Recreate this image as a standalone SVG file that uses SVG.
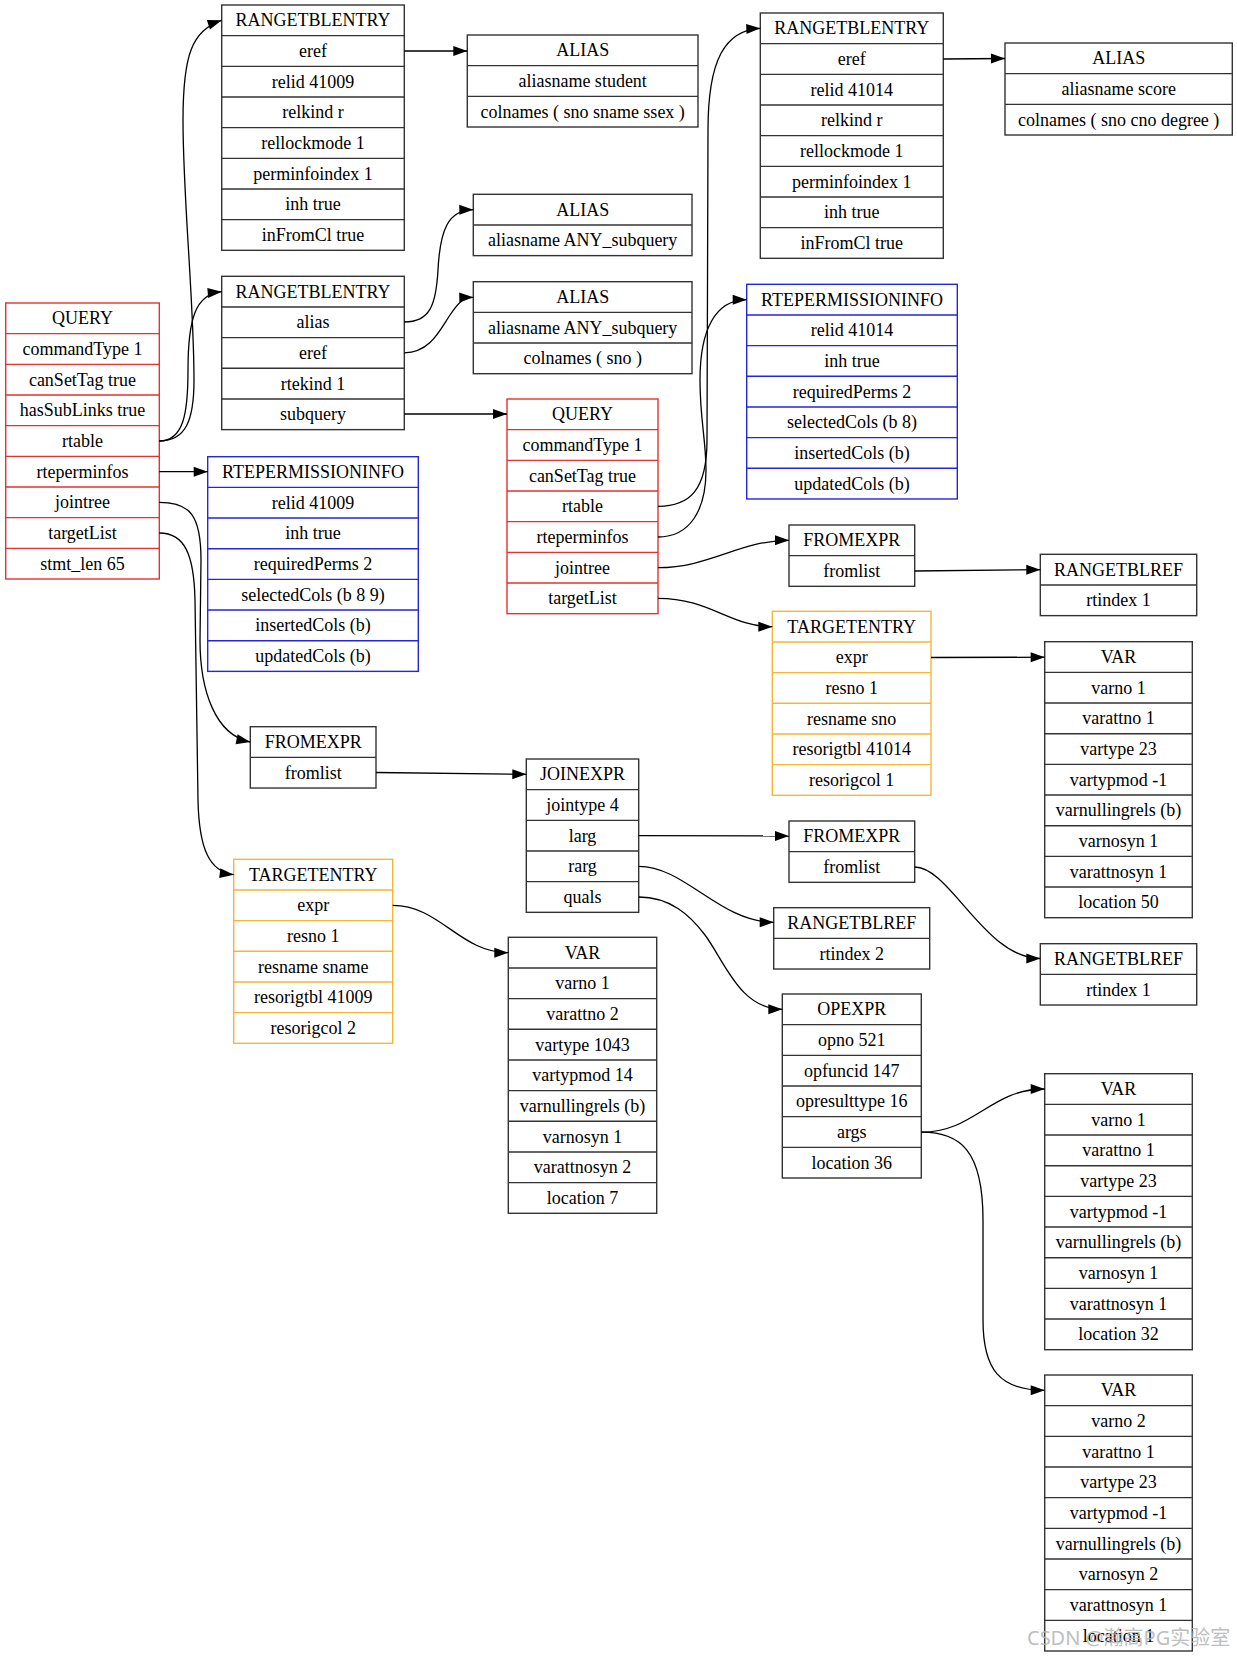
<svg xmlns="http://www.w3.org/2000/svg" width="1237" height="1657" viewBox="0 0 1237 1657">
<style>
.nd rect{fill:#fff;stroke:#333;stroke-width:1.4}
.nd path{fill:none;stroke:#333;stroke-width:1.4}
.r rect,.r path{stroke:#e23232}
.b rect,.b path{stroke:#2626d9}
.o rect,.o path{stroke:#f5b537}
.nd text{font-family:"Liberation Serif","Times New Roman",serif;font-size:18px;text-anchor:middle;fill:#000}
#edges path{fill:none;stroke:#000;stroke-width:1.3}
.wm{font-family:"Noto Sans","Noto Sans CJK SC",sans-serif;font-size:20px;fill:#b4b4b4;opacity:0.85}
</style>
<defs>
<marker id="arr" markerUnits="userSpaceOnUse" markerWidth="14" markerHeight="10" refX="14" refY="5" orient="auto" overflow="visible"><path d="M0,0L14,5L0,10z" fill="#000"/></marker>
</defs>
<rect width="1237" height="1657" fill="#fff"/>

<g id="query1" class="nd r" transform="translate(5.7,303)">
<rect width="153.6" height="276"/>
<path d="M0,30.67h153.6M0,61.33h153.6M0,92h153.6M0,122.67h153.6M0,153.33h153.6M0,184h153.6M0,214.67h153.6M0,245.33h153.6"/>
<text x="76.8" y="21.3">QUERY</text>
<text x="76.8" y="52">commandType 1</text>
<text x="76.8" y="82.7">canSetTag true</text>
<text x="76.8" y="113.3">hasSubLinks true</text>
<text x="76.8" y="144">rtable</text>
<text x="76.8" y="174.7">rteperminfos</text>
<text x="76.8" y="205.3">jointree</text>
<text x="76.8" y="236">targetList</text>
<text x="76.8" y="266.7">stmt_len 65</text>
</g>

<g id="rte1" class="nd" transform="translate(221.7,5)">
<rect width="182.6" height="245.33"/>
<path d="M0,30.67h182.6M0,61.33h182.6M0,92h182.6M0,122.67h182.6M0,153.33h182.6M0,184h182.6M0,214.67h182.6"/>
<text x="91.3" y="21.3">RANGETBLENTRY</text>
<text x="91.3" y="52">eref</text>
<text x="91.3" y="82.7">relid 41009</text>
<text x="91.3" y="113.3">relkind r</text>
<text x="91.3" y="144">rellockmode 1</text>
<text x="91.3" y="174.7">perminfoindex 1</text>
<text x="91.3" y="205.3">inh true</text>
<text x="91.3" y="236">inFromCl true</text>
</g>

<g id="rte2" class="nd" transform="translate(221.7,276.3)">
<rect width="182.6" height="153.33"/>
<path d="M0,30.67h182.6M0,61.33h182.6M0,92h182.6M0,122.67h182.6"/>
<text x="91.3" y="21.3">RANGETBLENTRY</text>
<text x="91.3" y="52">alias</text>
<text x="91.3" y="82.7">eref</text>
<text x="91.3" y="113.3">rtekind 1</text>
<text x="91.3" y="144">subquery</text>
</g>

<g id="alias1" class="nd" transform="translate(467.3,35)">
<rect width="230.7" height="92"/>
<path d="M0,30.67h230.7M0,61.33h230.7"/>
<text x="115.35" y="21.3">ALIAS</text>
<text x="115.35" y="52">aliasname student</text>
<text x="115.35" y="82.7">colnames ( sno sname ssex )</text>
</g>

<g id="alias2" class="nd" transform="translate(473.3,194.3)">
<rect width="218.7" height="61.33"/>
<path d="M0,30.67h218.7"/>
<text x="109.35" y="21.3">ALIAS</text>
<text x="109.35" y="52">aliasname ANY_subquery</text>
</g>

<g id="alias3" class="nd" transform="translate(473.3,281.7)">
<rect width="218.7" height="92"/>
<path d="M0,30.67h218.7M0,61.33h218.7"/>
<text x="109.35" y="21.3">ALIAS</text>
<text x="109.35" y="52">aliasname ANY_subquery</text>
<text x="109.35" y="82.7">colnames ( sno )</text>
</g>

<g id="query2" class="nd r" transform="translate(507,399)">
<rect width="151" height="214.67"/>
<path d="M0,30.67h151M0,61.33h151M0,92h151M0,122.67h151M0,153.33h151M0,184h151"/>
<text x="75.5" y="21.3">QUERY</text>
<text x="75.5" y="52">commandType 1</text>
<text x="75.5" y="82.7">canSetTag true</text>
<text x="75.5" y="113.3">rtable</text>
<text x="75.5" y="144">rteperminfos</text>
<text x="75.5" y="174.7">jointree</text>
<text x="75.5" y="205.3">targetList</text>
</g>

<g id="rte3" class="nd" transform="translate(760.3,13)">
<rect width="183" height="245.33"/>
<path d="M0,30.67h183M0,61.33h183M0,92h183M0,122.67h183M0,153.33h183M0,184h183M0,214.67h183"/>
<text x="91.5" y="21.3">RANGETBLENTRY</text>
<text x="91.5" y="52">eref</text>
<text x="91.5" y="82.7">relid 41014</text>
<text x="91.5" y="113.3">relkind r</text>
<text x="91.5" y="144">rellockmode 1</text>
<text x="91.5" y="174.7">perminfoindex 1</text>
<text x="91.5" y="205.3">inh true</text>
<text x="91.5" y="236">inFromCl true</text>
</g>

<g id="alias4" class="nd" transform="translate(1005,43)">
<rect width="227.3" height="92"/>
<path d="M0,30.67h227.3M0,61.33h227.3"/>
<text x="113.65" y="21.3">ALIAS</text>
<text x="113.65" y="52">aliasname score</text>
<text x="113.65" y="82.7">colnames ( sno cno degree )</text>
</g>

<g id="perm2" class="nd b" transform="translate(746.7,284.3)">
<rect width="210.6" height="214.67"/>
<path d="M0,30.67h210.6M0,61.33h210.6M0,92h210.6M0,122.67h210.6M0,153.33h210.6M0,184h210.6"/>
<text x="105.3" y="21.3">RTEPERMISSIONINFO</text>
<text x="105.3" y="52">relid 41014</text>
<text x="105.3" y="82.7">inh true</text>
<text x="105.3" y="113.3">requiredPerms 2</text>
<text x="105.3" y="144">selectedCols (b 8)</text>
<text x="105.3" y="174.7">insertedCols (b)</text>
<text x="105.3" y="205.3">updatedCols (b)</text>
</g>

<g id="perm1" class="nd b" transform="translate(207.7,456.7)">
<rect width="210.6" height="214.67"/>
<path d="M0,30.67h210.6M0,61.33h210.6M0,92h210.6M0,122.67h210.6M0,153.33h210.6M0,184h210.6"/>
<text x="105.3" y="21.3">RTEPERMISSIONINFO</text>
<text x="105.3" y="52">relid 41009</text>
<text x="105.3" y="82.7">inh true</text>
<text x="105.3" y="113.3">requiredPerms 2</text>
<text x="105.3" y="144">selectedCols (b 8 9)</text>
<text x="105.3" y="174.7">insertedCols (b)</text>
<text x="105.3" y="205.3">updatedCols (b)</text>
</g>

<g id="fromexpr1" class="nd" transform="translate(250.3,726.7)">
<rect width="125.7" height="61.33"/>
<path d="M0,30.67h125.7"/>
<text x="62.85" y="21.3">FROMEXPR</text>
<text x="62.85" y="52">fromlist</text>
</g>

<g id="fromexpr2" class="nd" transform="translate(789,525)">
<rect width="125.7" height="61.33"/>
<path d="M0,30.67h125.7"/>
<text x="62.85" y="21.3">FROMEXPR</text>
<text x="62.85" y="52">fromlist</text>
</g>

<g id="rtref1" class="nd" transform="translate(1040.3,554.3)">
<rect width="156.4" height="61.33"/>
<path d="M0,30.67h156.4"/>
<text x="78.2" y="21.3">RANGETBLREF</text>
<text x="78.2" y="52">rtindex 1</text>
</g>

<g id="te2" class="nd o" transform="translate(772.3,611.3)">
<rect width="158.7" height="184"/>
<path d="M0,30.67h158.7M0,61.33h158.7M0,92h158.7M0,122.67h158.7M0,153.33h158.7"/>
<text x="79.35" y="21.3">TARGETENTRY</text>
<text x="79.35" y="52">expr</text>
<text x="79.35" y="82.7">resno 1</text>
<text x="79.35" y="113.3">resname sno</text>
<text x="79.35" y="144">resorigtbl 41014</text>
<text x="79.35" y="174.7">resorigcol 1</text>
</g>

<g id="var1" class="nd" transform="translate(1044.7,641.7)">
<rect width="147.6" height="276"/>
<path d="M0,30.67h147.6M0,61.33h147.6M0,92h147.6M0,122.67h147.6M0,153.33h147.6M0,184h147.6M0,214.67h147.6M0,245.33h147.6"/>
<text x="73.8" y="21.3">VAR</text>
<text x="73.8" y="52">varno 1</text>
<text x="73.8" y="82.7">varattno 1</text>
<text x="73.8" y="113.3">vartype 23</text>
<text x="73.8" y="144">vartypmod -1</text>
<text x="73.8" y="174.7">varnullingrels (b)</text>
<text x="73.8" y="205.3">varnosyn 1</text>
<text x="73.8" y="236">varattnosyn 1</text>
<text x="73.8" y="266.7">location 50</text>
</g>

<g id="joinexpr" class="nd" transform="translate(526.3,759)">
<rect width="112.4" height="153.33"/>
<path d="M0,30.67h112.4M0,61.33h112.4M0,92h112.4M0,122.67h112.4"/>
<text x="56.2" y="21.3">JOINEXPR</text>
<text x="56.2" y="52">jointype 4</text>
<text x="56.2" y="82.7">larg</text>
<text x="56.2" y="113.3">rarg</text>
<text x="56.2" y="144">quals</text>
</g>

<g id="fromexpr3" class="nd" transform="translate(789,821)">
<rect width="125.7" height="61.33"/>
<path d="M0,30.67h125.7"/>
<text x="62.85" y="21.3">FROMEXPR</text>
<text x="62.85" y="52">fromlist</text>
</g>

<g id="rtref2" class="nd" transform="translate(773.7,907.7)">
<rect width="156" height="61.33"/>
<path d="M0,30.67h156"/>
<text x="78" y="21.3">RANGETBLREF</text>
<text x="78" y="52">rtindex 2</text>
</g>

<g id="rtref3" class="nd" transform="translate(1040.3,943.7)">
<rect width="156.4" height="61.33"/>
<path d="M0,30.67h156.4"/>
<text x="78.2" y="21.3">RANGETBLREF</text>
<text x="78.2" y="52">rtindex 1</text>
</g>

<g id="opexpr" class="nd" transform="translate(782.3,994)">
<rect width="139" height="184"/>
<path d="M0,30.67h139M0,61.33h139M0,92h139M0,122.67h139M0,153.33h139"/>
<text x="69.5" y="21.3">OPEXPR</text>
<text x="69.5" y="52">opno 521</text>
<text x="69.5" y="82.7">opfuncid 147</text>
<text x="69.5" y="113.3">opresulttype 16</text>
<text x="69.5" y="144">args</text>
<text x="69.5" y="174.7">location 36</text>
</g>

<g id="var2" class="nd" transform="translate(508.3,937.3)">
<rect width="148.4" height="276"/>
<path d="M0,30.67h148.4M0,61.33h148.4M0,92h148.4M0,122.67h148.4M0,153.33h148.4M0,184h148.4M0,214.67h148.4M0,245.33h148.4"/>
<text x="74.2" y="21.3">VAR</text>
<text x="74.2" y="52">varno 1</text>
<text x="74.2" y="82.7">varattno 2</text>
<text x="74.2" y="113.3">vartype 1043</text>
<text x="74.2" y="144">vartypmod 14</text>
<text x="74.2" y="174.7">varnullingrels (b)</text>
<text x="74.2" y="205.3">varnosyn 1</text>
<text x="74.2" y="236">varattnosyn 2</text>
<text x="74.2" y="266.7">location 7</text>
</g>

<g id="te1" class="nd o" transform="translate(233.7,859.3)">
<rect width="159" height="184"/>
<path d="M0,30.67h159M0,61.33h159M0,92h159M0,122.67h159M0,153.33h159"/>
<text x="79.5" y="21.3">TARGETENTRY</text>
<text x="79.5" y="52">expr</text>
<text x="79.5" y="82.7">resno 1</text>
<text x="79.5" y="113.3">resname sname</text>
<text x="79.5" y="144">resorigtbl 41009</text>
<text x="79.5" y="174.7">resorigcol 2</text>
</g>

<g id="var3" class="nd" transform="translate(1044.7,1073.7)">
<rect width="147.6" height="276"/>
<path d="M0,30.67h147.6M0,61.33h147.6M0,92h147.6M0,122.67h147.6M0,153.33h147.6M0,184h147.6M0,214.67h147.6M0,245.33h147.6"/>
<text x="73.8" y="21.3">VAR</text>
<text x="73.8" y="52">varno 1</text>
<text x="73.8" y="82.7">varattno 1</text>
<text x="73.8" y="113.3">vartype 23</text>
<text x="73.8" y="144">vartypmod -1</text>
<text x="73.8" y="174.7">varnullingrels (b)</text>
<text x="73.8" y="205.3">varnosyn 1</text>
<text x="73.8" y="236">varattnosyn 1</text>
<text x="73.8" y="266.7">location 32</text>
</g>

<g id="var4" class="nd" transform="translate(1044.7,1375)">
<rect width="147.6" height="276"/>
<path d="M0,30.67h147.6M0,61.33h147.6M0,92h147.6M0,122.67h147.6M0,153.33h147.6M0,184h147.6M0,214.67h147.6M0,245.33h147.6"/>
<text x="73.8" y="21.3">VAR</text>
<text x="73.8" y="52">varno 2</text>
<text x="73.8" y="82.7">varattno 1</text>
<text x="73.8" y="113.3">vartype 23</text>
<text x="73.8" y="144">vartypmod -1</text>
<text x="73.8" y="174.7">varnullingrels (b)</text>
<text x="73.8" y="205.3">varnosyn 2</text>
<text x="73.8" y="236">varattnosyn 1</text>
<text x="73.8" y="266.7">location 1</text>
</g>

<g id="edges" marker-end="url(#arr)">
<path d="M159.3,441 C186,441 194,420 194,380 C194,300 183,200 183,120 C183,55 192,30 221.7,20.3"/>
<path d="M159.3,441 C184,441 188,412 188,370 C188,320 195,294 221.7,291.7"/>
<path d="M159.3,471.7 L207.7,471.7"/>
<path d="M159.3,502.3 C190,502.3 201,515 201,560 L200,640 C200,690 215,735 250.3,742"/>
<path d="M159.3,533 C185,533 194,555 195,600 L198,800 C199,850 210,872 233.7,874.7"/>
<path d="M404.3,51 L467.3,51"/>
<path d="M404.3,322 C430,322 436,305 438,270 C440,230 448,210 473.3,209.7"/>
<path d="M404.3,352.8 C430,352.8 440,330 450,315 C458,303 463,297.5 473.3,297.3"/>
<path d="M404.3,414 L507,414"/>
<path d="M658,506.3 C690,506.3 707,490 707,440 L708,130 C708,60 725,30 760.3,28.3"/>
<path d="M658,537 C690,537 706,510 706,470 C706,440 700,420 700,380 C700,330 715,300 746.7,299.7"/>
<path d="M943.3,59 L1005,58.5"/>
<path d="M658,567.7 C710,567.7 740,540.3 789,540.3"/>
<path d="M658,598.3 C710,598.3 730,626.7 772.3,626.7"/>
<path d="M914.7,571 L1040.3,569.7"/>
<path d="M931,657.5 L1044.7,657.2"/>
<path d="M376,772.5 L526.3,774.3"/>
<path d="M638.7,835.7 L789,836"/>
<path d="M638.7,866.3 C685,866.3 720,922.3 773.7,922.3"/>
<path d="M638.7,897 C670,897 690,915 705,935 C725,962 740,1009.3 782.3,1009.3"/>
<path d="M914.7,867 C950,867 985,958.5 1040.3,958.5"/>
<path d="M392.7,905.4 C440,905.4 460,952.7 508.3,952.7"/>
<path d="M921.3,1132.2 C975,1132.2 990,1089 1044.7,1089"/>
<path d="M921.3,1132.2 C960,1132.2 983,1150 983,1220 L983,1320 C983,1370 1000,1390.3 1044.7,1390.3"/>
</g>

<text class="wm" x="1027" y="1645">CSDN @瀚高PG实验室</text>
</svg>
